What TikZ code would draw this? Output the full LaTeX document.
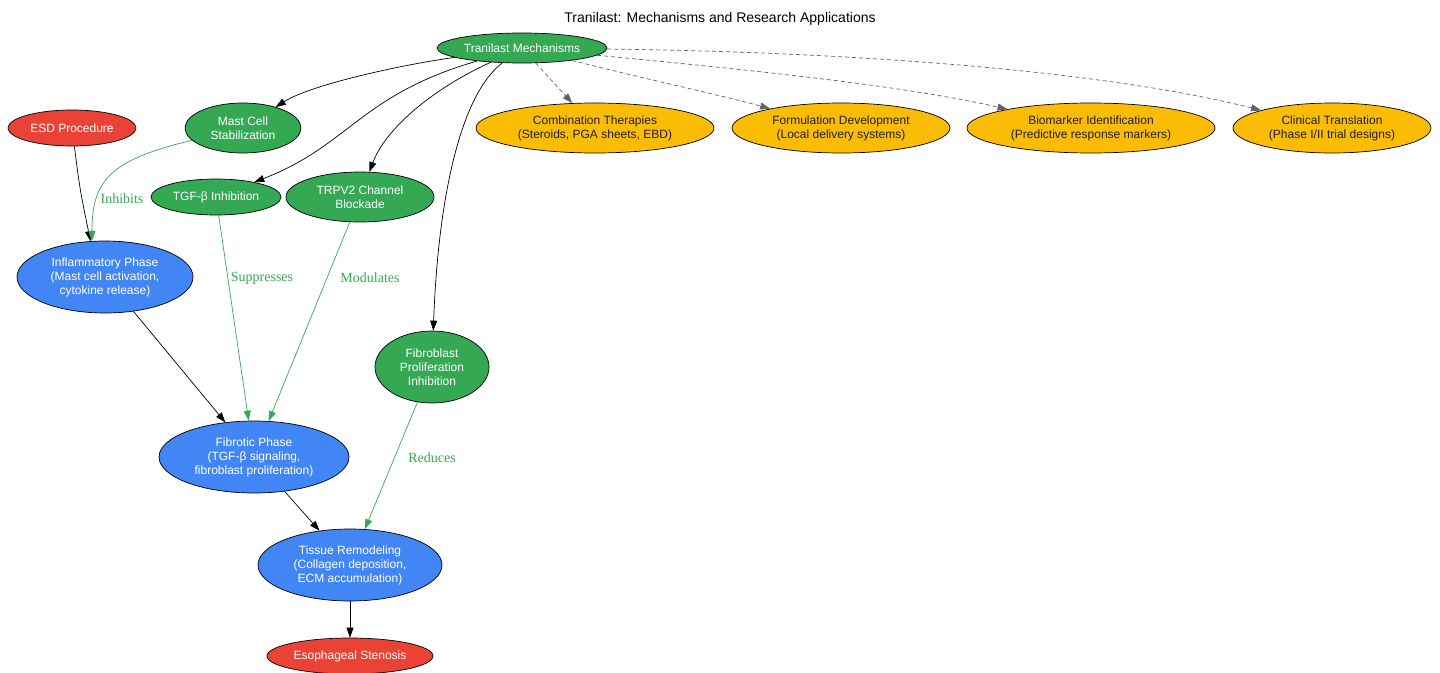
\documentclass[tikz,border=0pt]{standalone}
\usepackage{fontspec}
\setmainfont{Liberation Serif}
\newfontfamily\arialf{Liberation Sans}
\usetikzlibrary{shapes.geometric,arrows.meta}
\definecolor{gG}{HTML}{34A853}
\definecolor{gR}{HTML}{EA4335}
\definecolor{gB}{HTML}{4285F4}
\definecolor{gY}{HTML}{FBBC05}
\definecolor{gGray}{HTML}{5F6368}
\definecolor{txtdark}{HTML}{202124}
\begin{document}
\begin{tikzpicture}[x=1pt,y=-1pt,
  nd/.style={ellipse,draw=black,line width=0.7pt,inner sep=0pt,align=center,
    font=\arialf\fontsize{12}{14}\selectfont,text=white},
  grn/.style={nd,fill=gG},
  red/.style={nd,fill=gR},
  blu/.style={nd,fill=gB},
  yel/.style={nd,fill=gY,text=txtdark},
  arr/.style={draw=black,line width=0.7pt,-{Triangle[length=10pt,width=7pt]}},
  garr/.style={draw=gG,line width=0.7pt,-{Triangle[length=10pt,width=7pt]}},
  darr/.style={draw=gGray,line width=0.7pt,dash pattern=on 4pt off 3pt,-{Triangle[length=10pt,width=7pt]}},
  lbl/.style={text=gG,font=\fontsize{14}{16}\selectfont}]
\useasboundingbox (0,0) rectangle (1440,672);
\node[font=\arialf\fontsize{14}{16}\selectfont] (title) at (720,19) {Tranilast: Mechanisms and Research Applications};

\node[grn,minimum width=170,minimum height=30] (tm) at (522,48) {Tranilast Mechanisms};
\node[red,minimum width=128,minimum height=36] (esd) at (72,128) {ESD Procedure};
\node[grn,minimum width=116,minimum height=50] (mast) at (243,128) {Mast Cell\\Stabilization};
\node[grn,minimum width=130,minimum height=36] (tgf) at (216,197) {TGF-β Inhibition};
\node[grn,minimum width=148,minimum height=50] (trpv) at (360,197) {TRPV2 Channel\\Blockade};
\node[blu,minimum width=176,minimum height=72] (infl) at (105,277) {Inflammatory Phase\\(Mast cell activation,\\cytokine release)};
\node[grn,minimum width=114,minimum height=72] (fibi) at (432,367) {Fibroblast\\Proliferation\\Inhibition};
\node[blu,minimum width=190,minimum height=72] (fibr) at (254,457) {Fibrotic Phase\\(TGF-β signaling,\\fibroblast proliferation)};
\node[blu,minimum width=184,minimum height=72] (tiss) at (350,565) {Tissue Remodeling\\(Collagen deposition,\\ECM accumulation)};
\node[red,minimum width=166,minimum height=36] (sten) at (350,656) {Esophageal Stenosis};

\node[yel,minimum width=238,minimum height=50] (comb) at (595,128) {Combination Therapies\\(Steroids, PGA sheets, EBD)};
\node[yel,minimum width=218,minimum height=50] (form) at (841,128) {Formulation Development\\(Local delivery systems)};
\node[yel,minimum width=248,minimum height=50] (bio) at (1091,128) {Biomarker Identification\\(Predictive response markers)};
\node[yel,minimum width=198,minimum height=50] (clin) at (1332,128) {Clinical Translation\\(Phase I/II trial designs)};

% black edges from Tranilast Mechanisms
\draw[arr] (tm) .. controls (400,65) and (310,85) .. (mast);
\draw[arr] (tm) .. controls (360,95) and (350,145) .. (tgf);
\draw[arr] (tm) .. controls (430,90) and (385,130) .. (trpv);
\draw[arr] (tm) .. controls (460,95) and (438,200) .. (fibi);

% dashed edges
\draw[darr] (tm) -- (comb);
\draw[darr] (tm) .. controls (650,80) and (720,95) .. (form);
\draw[darr] (tm) .. controls (750,70) and (900,85) .. (bio);
\draw[darr] (tm) .. controls (850,52) and (1100,70) .. (clin);

% pathway
\draw[arr] (esd) .. controls (80,190) .. (infl.112);
\draw[garr] (mast) .. controls (110,160) and (92,180) .. (infl.110);
\node[lbl] (l1) at (122,199) {Inhibits};
\draw[garr] (tgf) -- (fibr);
\node[lbl] (l2) at (262,278) {Suppresses};
\draw[garr] (trpv) -- (fibr);
\node[lbl] (l3) at (370,278) {Modulates};
\draw[arr] (infl) -- (fibr);
\draw[garr] (fibi) -- (tiss);
\node[lbl] (l4) at (432,458) {Reduces};
\draw[arr] (fibr) -- (tiss);
\draw[arr] (tiss) -- (sten);
\end{tikzpicture}
\end{document}
